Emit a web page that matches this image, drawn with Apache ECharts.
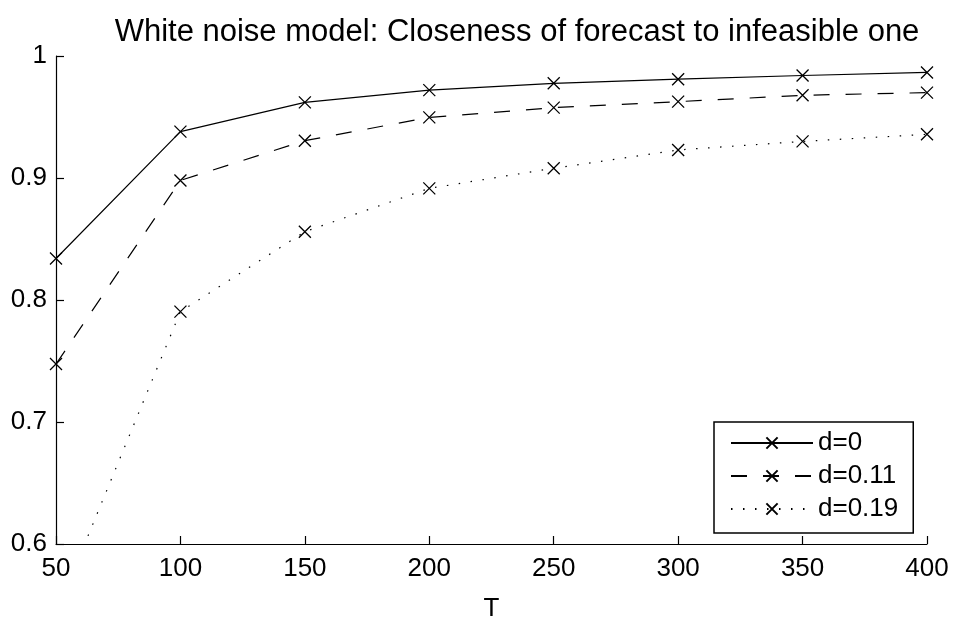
<!DOCTYPE html>
<html>
<head>
<meta charset="utf-8">
<script src="https://cdn.jsdelivr.net/npm/echarts@6/dist/echarts.min.js"></script>
<style>html,body{margin:0;padding:0;background:#fff}#c{width:956px;height:618px}</style>
</head>
<body>
<div id="c"></div>
<script>
const T = [50, 100, 150, 200, 250, 300, 350, 400];
const d0 = [0.834, 0.938, 0.962, 0.972, 0.9776, 0.981, 0.984, 0.9865];
const d011 = [0.7475, 0.898, 0.9306, 0.9497, 0.9577, 0.9626, 0.9678, 0.970];
const d019 = [0.543, 0.7905, 0.856, 0.8915, 0.908, 0.923, 0.930, 0.9358];
const seriesNames = ['d=0', 'd=0.11', 'd=0.19'];

const FONT = 'Liberation Sans, Arial, Helvetica, sans-serif';
const cross = 'path://M0,0L10,10M10,0L0,10';
function mk(name, vals, dash) {
  return {
    name: name, type: 'line',
    data: T.map((t, i) => [t, vals[i]]),
    symbol: cross, symbolSize: 12, showSymbol: true, clip: true,
    lineStyle: { color: '#000', width: 1.2, type: dash },
    itemStyle: { color: '#000', borderColor: '#000', borderWidth: 1.3 },
    emphasis: { disabled: true }, z: 3
  };
}
const chart = echarts.init(document.getElementById('c'), null, { renderer: 'canvas' });
chart.setOption({
  animation: false,
  backgroundColor: '#fff',
  textStyle: { fontFamily: FONT },
  title: {
    text: 'White noise model: Closeness of forecast to infeasible one',
    left: 512, top: 12, textAlign: 'center',
    textStyle: { fontFamily: FONT, fontSize: 31, fontWeight: 'normal', color: '#000' }
  },
  grid: { left: 56, right: 29, top: 56, bottom: 74, containLabel: false, outerBoundsMode: 'none' },
  legend: {
    orient: 'vertical', left: 714, top: 422,
    padding: [8, 15, 11, 16],
    itemWidth: 82, itemHeight: 14, itemGap: 7,
    borderColor: '#000', borderWidth: 1.5, backgroundColor: '#fff',
    textStyle: { fontFamily: FONT, fontSize: 26, color: '#000' },
    data: seriesNames
  },
  xAxis: {
    type: 'value', min: 50, max: 400, interval: 50,
    name: 'T', nameLocation: 'middle', nameGap: 52,
    nameTextStyle: { fontFamily: FONT, fontSize: 26, color: '#000' },
    axisLine: { show: true, onZero: false, lineStyle: { color: '#000', width: 1.2 } },
    axisTick: { show: true, inside: true, length: 8, lineStyle: { color: '#000', width: 1.2 } },
    axisLabel: { fontFamily: FONT, fontSize: 26, color: '#000', margin: 12 },
    splitLine: { show: false }
  },
  yAxis: {
    type: 'value', min: 0.6, max: 1, interval: 0.1,
    axisLine: { show: true, onZero: false, lineStyle: { color: '#000', width: 1.2 } },
    axisTick: { show: true, inside: true, length: 8, lineStyle: { color: '#000', width: 1.2 } },
    axisLabel: { fontFamily: FONT, fontSize: 26, color: '#000', margin: 9,
      formatter: v => String(Math.round(v * 10) / 10) },
    splitLine: { show: false }
  },
  series: [mk(seriesNames[0], d0, 'solid'), mk(seriesNames[1], d011, [16, 16]), mk(seriesNames[2], d019, [1.5, 10.5])]
});
</script>
</body>
</html>
